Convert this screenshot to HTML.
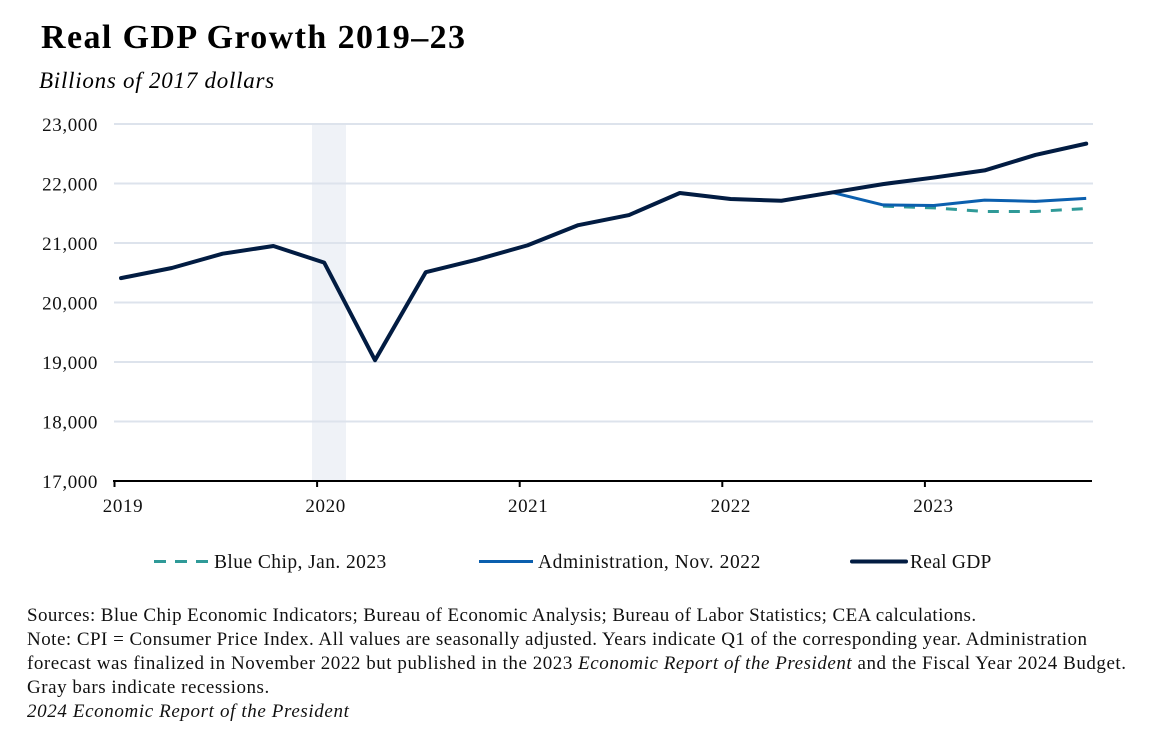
<!DOCTYPE html>
<html lang="en">
<head>
<meta charset="utf-8">
<title>Real GDP Growth 2019–23</title>
<style>
html,body{margin:0;padding:0;background:#fff;}
#page{position:relative;width:1159px;height:736px;overflow:hidden;background:#fff;font-family:"Liberation Serif",serif;color:#000;}
#title{position:absolute;left:41px;top:19px;font-size:34px;font-weight:bold;white-space:nowrap;letter-spacing:1.4px;}
#subtitle{position:absolute;left:39px;top:68px;font-size:23px;font-style:italic;white-space:nowrap;letter-spacing:.75px;}
#notes{position:absolute;left:27px;top:604px;font-size:19px;line-height:24px;white-space:nowrap;color:#111;}
#notes div{height:24px;}
svg{position:absolute;left:0;top:0;}
svg text{font-family:"Liberation Serif",serif;fill:#111;}
</style>
</head>
<body>
<div id="page">
<div id="title">Real GDP Growth 2019–23</div>
<div id="subtitle">Billions of 2017 dollars</div>
<svg id="chart" width="1159" height="736"></svg>
<div id="notes">
<div style="letter-spacing:.4px">Sources: Blue Chip Economic Indicators; Bureau of Economic Analysis; Bureau of Labor Statistics; CEA calculations.</div>
<div style="letter-spacing:.48px">Note: CPI = Consumer Price Index. All values are seasonally adjusted. Years indicate Q1 of the corresponding year. Administration</div>
<div style="letter-spacing:.54px">forecast was finalized in November 2022 but published in the 2023 <i>Economic Report of the President</i> and the Fiscal Year 2024 Budget.</div>
<div style="letter-spacing:.53px">Gray bars indicate recessions.</div>
<div style="letter-spacing:.62px;font-style:italic">2024 Economic Report of the President</div>
</div>
</div>
<script>
const yTicks = [17000, 18000, 19000, 20000, 21000, 22000, 23000];
const yearLabels = ['2019', '2020', '2021', '2022', '2023'];
const yearStartIndex = [0, 4, 8, 12, 16];
const realGdp = [20410, 20580, 20820, 20950, 20670, 19030, 20510, 20720, 20960, 21300, 21470, 21840, 21740, 21710, 21850, 21990, 22100, 22220, 22480, 22670];
const adminForecast = [null, null, null, null, null, null, null, null, null, null, null, null, null, null, 21850, 21640, 21630, 21720, 21700, 21750];
const blueChipForecast = [null, null, null, null, null, null, null, null, null, null, null, null, null, null, null, 21620, 21590, 21530, 21530, 21580];
const recessionQuarter = [4];

const NS = 'http://www.w3.org/2000/svg';
const svg = document.getElementById('chart');
function xPoint(i) { return 121 + i * 50.8; }
function xTick(i) { return 114.5 + i * 50.65; }
function y(v) { return 124 + (23000 - v) * (481 - 124) / 6000; }
function mk(tag, attrs, parent) {
  const el = document.createElementNS(NS, tag);
  for (const k in attrs) el.setAttribute(k, attrs[k]);
  (parent || svg).appendChild(el);
  return el;
}
function linePath(values) {
  let d = '', started = false;
  values.forEach(function (v, i) {
    if (v === null) return;
    d += (started ? 'L' : 'M') + xPoint(i) + ' ' + y(v);
    started = true;
  });
  return d;
}

recessionQuarter.forEach(function (q) {
  const band = mk('rect', { x: xPoint(q) - 12.2, y: 124, width: 34, height: 357, fill: '#eff2f7' });
  
  
});

yTicks.forEach(function (t) {
  if (t !== 17000) {
    const g = mk('line', { x1: 114, x2: 1093, y1: y(t), y2: y(t), stroke: '#dde3ec', 'stroke-width': 2 });
    
    
  }
  const lab = mk('text', { x: 98, y: y(t) + 7, 'text-anchor': 'end', 'font-size': 19, 'letter-spacing': '.6' });
  lab.textContent = t.toLocaleString('en-US');
  
  
});

const axis = mk('line', { x1: 113, x2: 1092, y1: 481, y2: 481, stroke: '#000', 'stroke-width': 2 });



yearLabels.forEach(function (label, k) {
  const xx = xTick(yearStartIndex[k]);
  const tick = mk('line', { x1: xx, x2: xx, y1: 481, y2: 487, stroke: '#000', 'stroke-width': 2 });
  
  
  const lab = mk('text', { x: xx + 8.5, y: 512, 'text-anchor': 'middle', 'font-size': 19, 'letter-spacing': '.6' });
  lab.textContent = label;
  
  
});

const chipLine = mk('path', { d: linePath(blueChipForecast), fill: 'none', stroke: '#2f9a98', 'stroke-width': 3, 'stroke-dasharray': '11 10' });


const adminLine = mk('path', { d: linePath(adminForecast), fill: 'none', stroke: '#0b5fae', 'stroke-width': 3, 'stroke-linejoin': 'round' });


const gdpLine = mk('path', { d: linePath(realGdp), fill: 'none', stroke: '#021c42', 'stroke-width': 4, 'stroke-linejoin': 'round', 'stroke-linecap': 'round' });



const l1 = mk('line', { x1: 154, x2: 208, y1: 561.5, y2: 561.5, stroke: '#2f9a98', 'stroke-width': 3, 'stroke-dasharray': '12 9' });


const t1 = mk('text', { x: 214, y: 568, 'font-size': 19.5, 'letter-spacing': '.43' });
t1.textContent = 'Blue Chip, Jan. 2023';


const l2 = mk('line', { x1: 479, x2: 533, y1: 561.5, y2: 561.5, stroke: '#0b5fae', 'stroke-width': 3 });


const t2 = mk('text', { x: 538, y: 568, 'font-size': 19.5, 'letter-spacing': '.56' });
t2.textContent = 'Administration, Nov. 2022';


const l3 = mk('line', { x1: 852, x2: 906, y1: 561.5, y2: 561.5, stroke: '#021c42', 'stroke-width': 4, 'stroke-linecap': 'round' });


const t3 = mk('text', { x: 910, y: 568, 'font-size': 19.5, 'letter-spacing': '.25' });
t3.textContent = 'Real GDP';


</script>
</body>
</html>
